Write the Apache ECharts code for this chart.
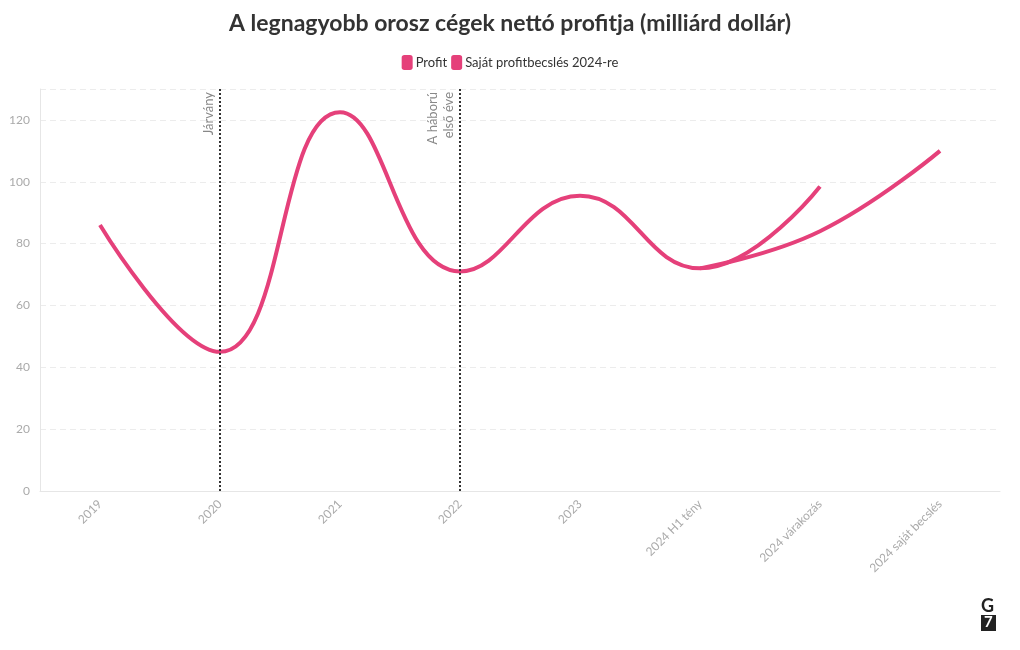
<!DOCTYPE html>
<html><head><meta charset="utf-8">
<script src="https://cdn.jsdelivr.net/npm/echarts@6/dist/echarts.min.js"></script>
<style>html,body{margin:0;padding:0;background:#fff}#c{width:1020px;height:650px}</style>
</head><body><div id="c"></div>
<script>
const categories = ['2019','2020','2021','2022','2023','2024 H1 tény','2024 várakozás','2024 saját becslés'];
const profit = [86, 45, 122.5, 71, 95.5, 72, 98.5, null];
const ownEstimate = [null, null, null, null, null, 72, 84, 110];
const yTicks = {min: 0, max: 130, interval: 20};
const events = [{x: '2020', label: 'Járvány'}, {x: '2022', label: 'A háború\nelső éve'}];

const FONT = 'Lato, "Noto Sans", sans-serif';
const PINK = '#e5407a';
const chart = echarts.init(document.getElementById('c'));
chart.setOption({
  animation: false,
  textStyle: {fontFamily: FONT},
  title: {text: 'A legnagyobb orosz cégek nettó profitja (milliárd dollár)', left: 'center', top: 7,
    textStyle: {fontFamily: FONT, fontSize: 23, fontWeight: 'bold', color: '#333'}},
  legend: {top: 50, left: 'center', itemWidth: 11, itemHeight: 15, itemGap: 4, icon: 'roundRect',
    textStyle: {fontFamily: FONT, fontSize: 13, color: '#333', padding: [0,0,0,-2]},
    data: ['Profit', 'Saját profitbecslés 2024-re']},
  grid: {left: 40, right: 20, top: 89, bottom: 159, containLabel: false},
  xAxis: {type: 'category', data: categories, boundaryGap: true,
    axisLine: {lineStyle: {color: '#e6e6e6'}},
    axisTick: {alignWithLabel: true, lineStyle: {color: '#e6e6e6'}},
    axisLabel: {rotate: 45, color: '#aaa', fontSize: 12, fontFamily: FONT, margin: 11}},
  yAxis: {type: 'value', min: yTicks.min, max: yTicks.max, interval: yTicks.interval,
    axisLine: {show: true, lineStyle: {color: '#e6e6e6'}},
    axisTick: {show: false},
    axisLabel: {color: '#aaa', fontSize: 12, fontFamily: FONT, margin: 10,
      formatter: v => (v % 20 === 0 && v <= 120) ? v : ''},
    splitLine: {lineStyle: {type: [6, 4], color: '#ececec'}}},
  series: [
    {name: 'Profit', type: 'line', data: profit, smooth: 0.45, symbol: 'none',
      lineStyle: {width: 4, color: PINK}, itemStyle: {color: PINK},
      markLine: {silent: true, symbol: 'none',
        lineStyle: {type: 'dotted', color: '#333', width: 2},
        label: {position: 'insideEndTop', color: '#888', fontSize: 13, fontFamily: FONT, lineHeight: 16, distance: 3},
        data: events.map(e => ({xAxis: e.x, label: {formatter: e.label}}))}},
    {name: 'Saját profitbecslés 2024-re', type: 'line', data: ownEstimate, smooth: 0.45, symbol: 'none',
      lineStyle: {width: 4, color: PINK}, itemStyle: {color: PINK}}
  ],
  graphic: [
    {type: 'text', left: 981, top: 597, style: {text: 'G', font: 'bold 18px ' + FONT, fill: '#222'}},
    {type: 'rect', left: 981, top: 615, shape: {width: 15, height: 16}, style: {fill: '#222'}},
    {type: 'text', left: 984, top: 615, style: {text: '7', font: 'bold 15px ' + FONT, fill: '#fff'}}
  ]
});
</script></body></html>
